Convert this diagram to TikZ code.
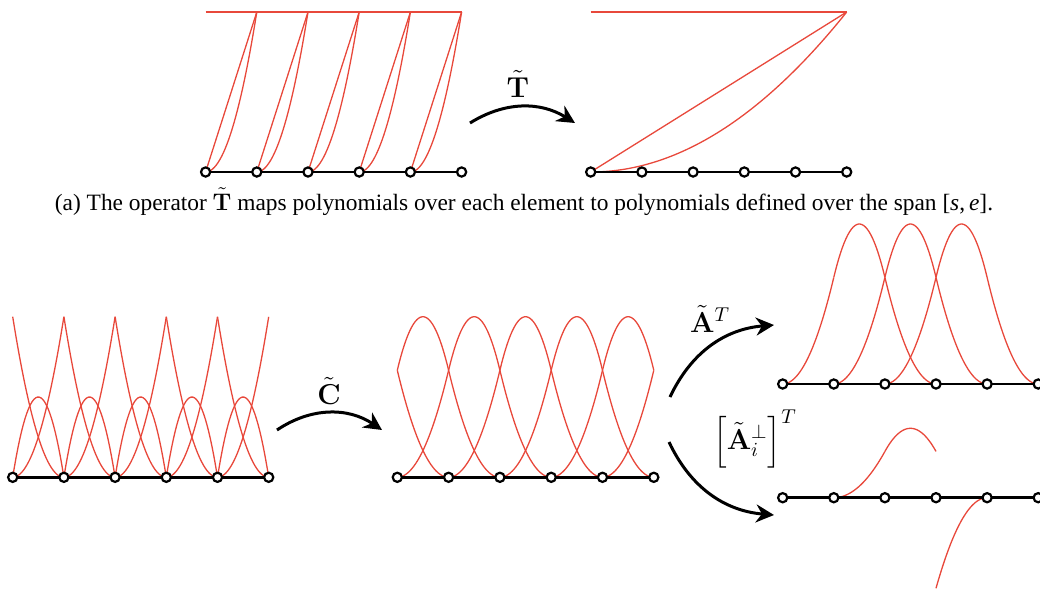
\documentclass[tikz,border=0pt]{standalone}
\usepackage{amsmath}
\usepackage[no-math]{fontspec}
\setmainfont{Liberation Serif}
\usepackage{xcolor}
\definecolor{basisRed}{HTML}{E8483B}
\usetikzlibrary{arrows.meta}

\tikzset{
  vtx/.style={circle, draw=black, fill=white, line width=1.1pt, inner sep=0pt, minimum size=4.6pt},
  mesh/.style={line width=1.3pt},
  basis/.style={basisRed, line width=0.65pt},
  opArrow/.style={->, line width=1.5pt},
  opLabel/.style={font=\Large},
}

\begin{document}
\begin{tikzpicture}[x=0.5pt, y=-0.5pt, >={Stealth[length=9pt,width=9pt]}]
  \useasboundingbox (0,0) rectangle (1040,591);
  % ------- (a) left: 1, t, t^2 on every element -------
  \foreach \i in {0,...,5} \coordinate (al\i) at ({205.6+\i*51.2},172);
  \draw[basis] (205.6,12) -- (461.6,12);
  \foreach \i in {0,...,4} {
    \draw[basis] (al\i) -- ({205.6+(\i+1)*51.2},12);
    \draw[basis] plot[domain=0:1, samples=30] ({205.6+(\i+\x)*51.2},{172-160*\x*\x});
  }
  \draw[mesh] (al0) -- (al5);
  \foreach \i in {0,...,5} \node[vtx] (nal\i) at (al\i) {};
  % ------- (a) right: the same over the span -------
  \foreach \i in {0,...,5} \coordinate (ar\i) at ({590.7+\i*51.2},172);
  \draw[basis] (590.7,12) -- (846.7,12);
  \draw[basis] (ar0) -- (846.7,12);
  \draw[basis] plot[domain=0:1, samples=60] ({590.7+256*\x},{172-160*\x*\x});
  \draw[mesh] (ar0) -- (ar5);
  \foreach \i in {0,...,5} \node[vtx] (nar\i) at (ar\i) {};
  % operator T
  \coordinate (tFrom) at (470,123);
  \coordinate (tTo) at (575,123);
  \draw[opArrow] (tFrom) to[bend left=32] (tTo);
  \node[opLabel] (tLab) at (518,84) {$\tilde{\mathbf{T}}$};
  \node[anchor=base, font=\fontsize{11.7}{14}\selectfont] (capA) at (524,210)
    {(a) The operator $\tilde{\mathbf{T}}$ maps polynomials over each element to polynomials defined over the span [\textit{s},\,\textit{e}].};
  % ------- (b) left: Bernstein basis per element -------
  \foreach \i in {0,...,5} \coordinate (bl\i) at ({12.7+\i*51.2},477.3);
  \foreach \i in {0,...,4} {
    \draw[basis] plot[domain=0:1, samples=30] ({12.7+(\i+\x)*51.2},{477.3-160.6*(1-\x)*(1-\x)});
    \draw[basis] plot[domain=0:1, samples=30] ({12.7+(\i+\x)*51.2},{477.3-160.6*2*\x*(1-\x)});
    \draw[basis] plot[domain=0:1, samples=30] ({12.7+(\i+\x)*51.2},{477.3-160.6*\x*\x});
  }
  \draw[mesh] (bl0) -- (bl5);
  \foreach \i in {0,...,5} \node[vtx] (nbl\i) at (bl\i) {};
  % operator C
  \coordinate (cFrom) at (277,430);
  \coordinate (cTo) at (382,430);
  \draw[opArrow] (cFrom) to[bend left=34] (cTo);
  \node[opLabel] (cLab) at (329,391) {$\tilde{\mathbf{C}}$};
  % ------- (b) middle: splines, cut at the span -------
  \foreach \i in {0,...,5} \coordinate (bm\i) at ({397.3+\i*51.3},477.3);
  \foreach \i in {0,...,4} {
    \draw[basis] plot[domain=0:1, samples=30] ({397.3+(\i+\x)*51.3},{477.3-160.6*2/3*\x*\x});
    \draw[basis] plot[domain=0:1, samples=30] ({397.3+(\i+\x)*51.3},{477.3-160.6*2/3*(1+2*\x-2*\x*\x)});
    \draw[basis] plot[domain=0:1, samples=30] ({397.3+(\i+\x)*51.3},{477.3-160.6*2/3*(1-\x)*(1-\x)});
  }
  \draw[mesh] (bm0) -- (bm5);
  \foreach \i in {0,...,5} \node[vtx] (nbm\i) at (bm\i) {};
  % operators A and A perp
  \coordinate (aFrom) at (670,397);
  \coordinate (aTo) at (774,325);
  \draw[opArrow] (aFrom) to[bend left=30] (aTo);
  \node[opLabel] (aLab) at (710,319) {$\tilde{\mathbf{A}}^T$};
  \coordinate (pFrom) at (669,442);
  \coordinate (pTo) at (774,515);
  \draw[opArrow] (pFrom) to[bend right=30] (pTo);
  \node[opLabel] (pLab) at (755,439) {$\left[\tilde{\mathbf{A}}_i^{\perp}\right]^T$};
  % ------- (b) right top: interior splines -------
  \foreach \i in {0,...,5} \coordinate (bt\i) at ({782.7+\i*51.1},384);
  \foreach \k in {0,1,2} {
    \draw[basis] plot[domain=0:1, samples=30] ({782.7+(\k+\x)*51.1},{384-160*2/3*\x*\x});
    \draw[basis] plot[domain=0:1, samples=30] ({782.7+(\k+1+\x)*51.1},{384-160*2/3*(1+2*\x-2*\x*\x)});
    \draw[basis] plot[domain=0:1, samples=30] ({782.7+(\k+2+\x)*51.1},{384-160*2/3*(1-\x)*(1-\x)});
  }
  \draw[mesh] (bt0) -- (bt5);
  \foreach \i in {0,...,5} \node[vtx] (nbt\i) at (bt\i) {};
  % ------- (b) right bottom: complement -------
  \foreach \i in {0,...,5} \coordinate (bb\i) at ({782.7+\i*51.1},497.7);
  \draw[basis] plot[domain=0:1, samples=30] ({782.7+(1+\x)*51.1},{497.7-69.4*2/3*\x*\x});
  \draw[basis] plot[domain=0:1, samples=30] ({782.7+(2+\x)*51.1},{497.7-69.4*2/3*(1+2*\x-2*\x*\x)});
  \draw[basis] plot[domain=0:1, samples=30] ({782.7+(3+\x)*51.1},{497.7+90.6*(1-\x)*(1-\x)});
  \draw[mesh] (bb0) -- (bb5);
  \foreach \i in {0,...,5} \node[vtx] (nbb\i) at (bb\i) {};
\end{tikzpicture}
\end{document}
